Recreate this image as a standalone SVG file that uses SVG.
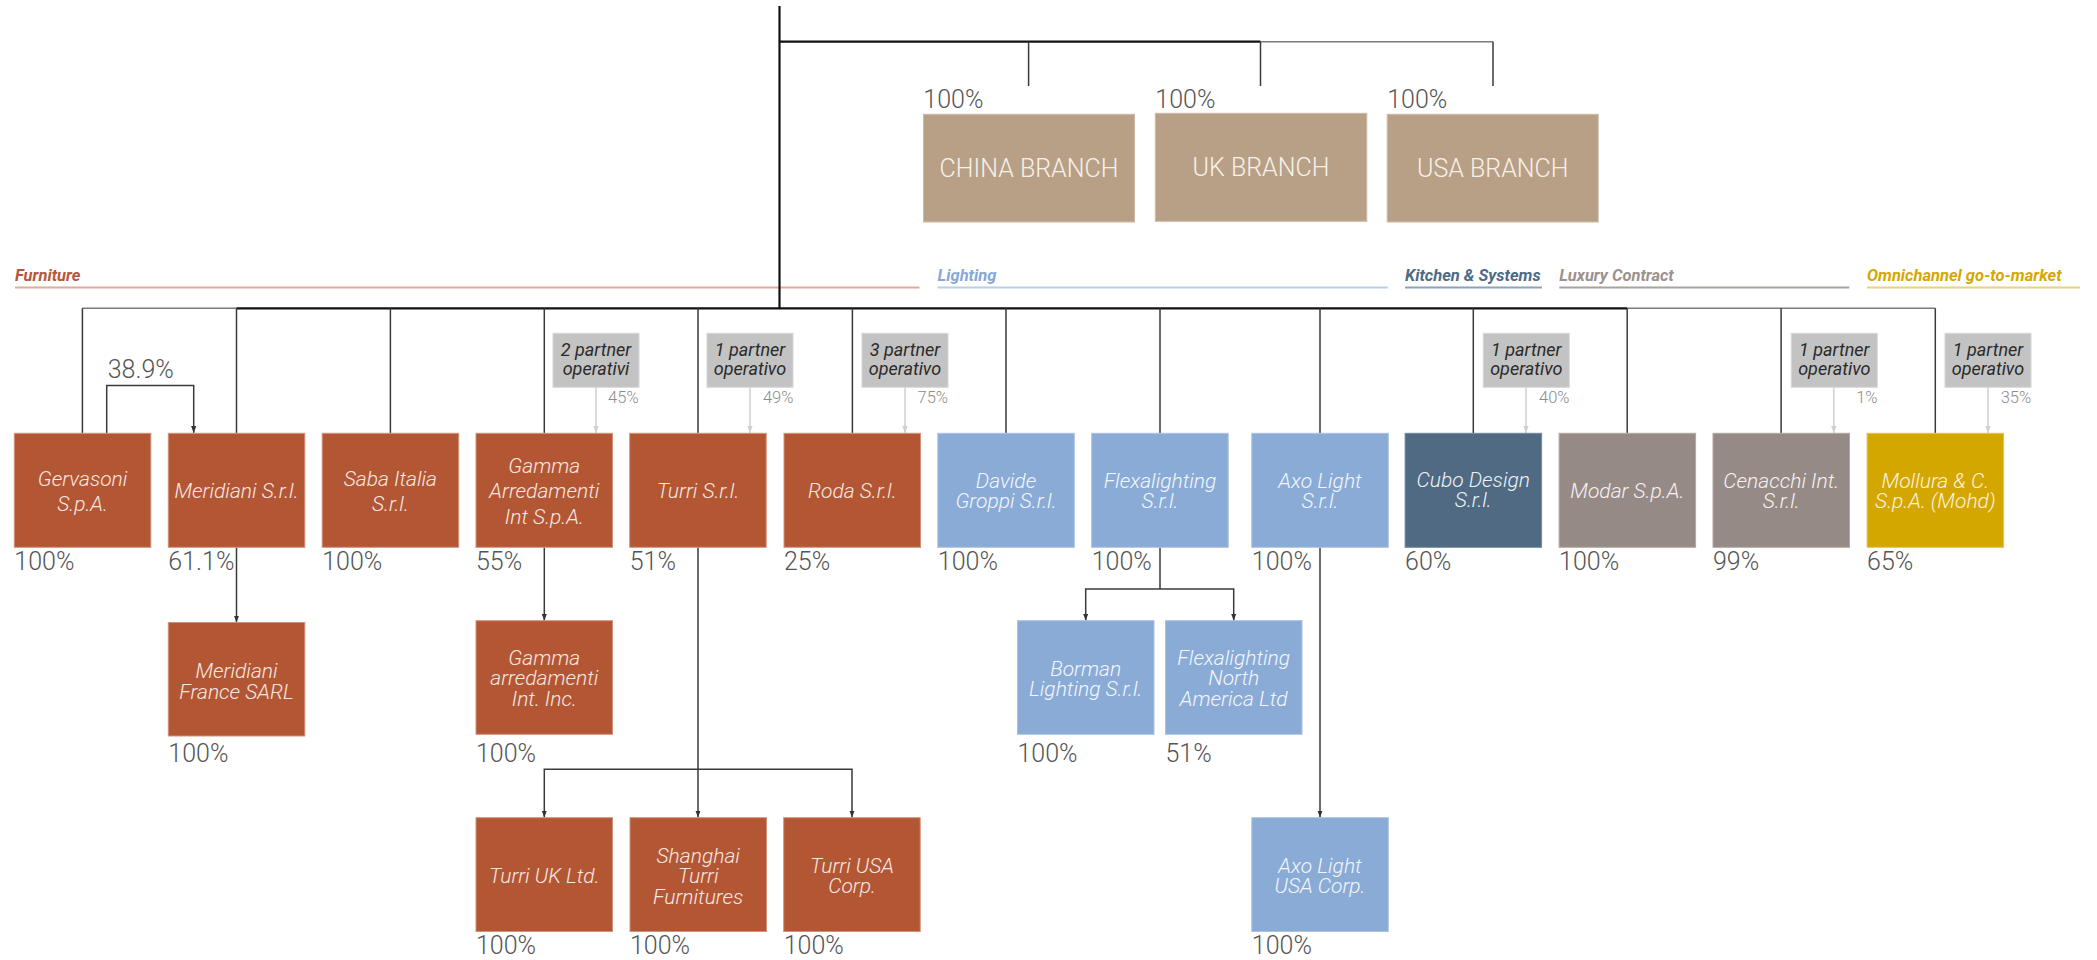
<svg xmlns="http://www.w3.org/2000/svg" width="2097" height="960" viewBox="0 0 2097 960">
<defs>
<style>
text{font-family:Roboto,"Liberation Sans",Arial,sans-serif}
.bx{font-style:italic;font-weight:300;font-size:21px;text-anchor:middle}
.fur rect{fill:#b35634;stroke:#d4917a;stroke-width:1}
.fur text{fill:#f7e8e1}
.lig rect{fill:#8aabd5;stroke:#a9c2e3;stroke-width:1}
.lig text{fill:#f3f7fc}
.kit rect{fill:#4f6a82;stroke:#7189a0;stroke-width:1}
.kit text{fill:#eef2f6}
.lux rect{fill:#968a86;stroke:#b2a8a4;stroke-width:1}
.lux text{fill:#f6f2f1}
.omn rect{fill:#d4a600;stroke:#e3c25a;stroke-width:1}
.omn text{fill:#fbf4dc}
.br rect{fill:#b8a086;stroke:#cdbaa6;stroke-width:1}
.br text.bt{fill:#f7f1ea;font-size:25px;font-weight:300;text-anchor:middle}
g text.pct,text.pct{font-size:25px;font-weight:300;fill:#555555;font-style:normal;text-anchor:start}
.pp rect{fill:#c3c3c3;stroke:#d6d6d6;stroke-width:1}
.pp text.t{font-style:italic;font-size:18px;fill:#2a2a2a;text-anchor:middle}
.pp text.p{font-size:16.5px;font-weight:300;fill:#8c8c8c;text-anchor:end}
.cat{font-style:italic;font-weight:700;font-size:16.5px}
.ln{fill:none;stroke:#3a3a3a;stroke-width:1.5}
.lnd{fill:none;stroke:#111111;stroke-width:2.2}
.lng{fill:none;stroke:#7a7a7a;stroke-width:1.6}
.pl{fill:none;stroke:#d2d2d2;stroke-width:1.6}
</style>
<marker id="arr" viewBox="0 0 8 8" refX="8" refY="4" markerWidth="7" markerHeight="7" markerUnits="userSpaceOnUse" orient="auto">
<path d="M0,1 L8,4 L0,7 z" fill="#333333"/>
</marker>
<marker id="arrg" viewBox="0 0 8 8" refX="8" refY="4" markerWidth="7" markerHeight="7" markerUnits="userSpaceOnUse" orient="auto">
<path d="M0,1 L8,4 L0,7 z" fill="#cfcfcf"/>
</marker>
</defs>
<rect width="2097" height="960" fill="#ffffff"/>

<!-- category labels -->
<g id="categories">
<text class="cat" x="15" y="280.7" fill="#b5573b">Furniture</text>
<line x1="15" y1="287.5" x2="919.5" y2="287.5" stroke="#e2aa99" stroke-width="2"/>
<text class="cat" x="937.6" y="280.7" fill="#86a8d8">Lighting</text>
<line x1="937.6" y1="287.5" x2="1387.8" y2="287.5" stroke="#bccfe8" stroke-width="2"/>
<text class="cat" x="1405" y="280.7" fill="#4d6b85">Kitchen &amp; Systems</text>
<line x1="1405" y1="287.5" x2="1542" y2="287.5" stroke="#8fa3b5" stroke-width="2"/>
<text class="cat" x="1559.3" y="280.7" fill="#9c918d">Luxury Contract</text>
<line x1="1559.3" y1="287.5" x2="1849.3" y2="287.5" stroke="#aaa29e" stroke-width="2"/>
<text class="cat" x="1867" y="280.7" fill="#d4a800">Omnichannel go-to-market</text>
<line x1="1867" y1="287.5" x2="2080" y2="287.5" stroke="#ecd27a" stroke-width="2"/>
</g>

<!-- connectors -->
<g id="connectors">
<path class="lnd" d="M779.5,6 V308.3"/>
<path class="lnd" d="M779.5,41.7 H1260.5"/>
<path class="lng" d="M1260.5,41.7 H1493"/>
<path class="ln" d="M1028.6,41.7 V86 M1260.5,41.7 V86 M1493,41.7 V86"/>
<path class="lng" d="M82.4,308.3 H236.5 M1627.2,308.3 H1935.3"/>
<path class="lnd" d="M236.5,308.3 H1627.2"/>
<path class="ln" d="M82.4,308.3 V433.3 M236.5,308.3 V433.3 M390.4,308.3 V433.3 M544.3,308.3 V433.3 M698,308.3 V433.3 M852.4,308.3 V433.3 M1006,308.3 V433.3 M1160,308.3 V433.3 M1320,308.3 V433.3 M1473.3,308.3 V433.3 M1627.2,308.3 V433.3 M1781.1,308.3 V433.3 M1935.3,308.3 V433.3"/>
<path class="ln" d="M106.7,433.3 V385.5 H193.7 V433" marker-end="url(#arr)"/>
<path class="pl" d="M596,387 V433" marker-end="url(#arrg)"/>
<path class="pl" d="M750,387 V433" marker-end="url(#arrg)"/>
<path class="pl" d="M905,387 V433" marker-end="url(#arrg)"/>
<path class="pl" d="M1526,387 V433" marker-end="url(#arrg)"/>
<path class="pl" d="M1833.8,387 V433" marker-end="url(#arrg)"/>
<path class="pl" d="M1988,387 V433" marker-end="url(#arrg)"/>
<path class="ln" d="M236.5,547.3 V622.5" marker-end="url(#arr)"/>
<path class="ln" d="M544.3,547.3 V620.7" marker-end="url(#arr)"/>
<path class="ln" d="M698,547.3 V817.5" marker-end="url(#arr)"/>
<path class="ln" d="M698,769.3 H544.3 V817.5" marker-end="url(#arr)"/>
<path class="ln" d="M698,769.3 H852 V817.5" marker-end="url(#arr)"/>
<path class="ln" d="M1160,547.3 V589"/>
<path class="ln" d="M1160,589 H1085.7 V620.7" marker-end="url(#arr)"/>
<path class="ln" d="M1160,589 H1233.7 V620.7" marker-end="url(#arr)"/>
<path class="ln" d="M1320,547.3 V817.5" marker-end="url(#arr)"/>
</g>

<text class="pct" x="107.7" y="377.7">38.9%</text>

<!-- branches -->
<g id="china" class="br">
<text class="pct" x="923.3" y="108.3">100%</text>
<rect x="923.5" y="114.3" width="211" height="107.7"/>
<text class="bt" x="1029" y="177.3">CHINA BRANCH</text>
</g>
<g id="uk" class="br">
<text class="pct" x="1155.3" y="108.3">100%</text>
<rect x="1155.3" y="113.3" width="211.5" height="108"/>
<text class="bt" x="1261" y="176.3">UK BRANCH</text>
</g>
<g id="usa" class="br">
<text class="pct" x="1387.2" y="108.3">100%</text>
<rect x="1387.2" y="114.3" width="211" height="107.7"/>
<text class="bt" x="1492.7" y="177.3">USA BRANCH</text>
</g>

<!-- partner boxes -->
<g id="partner-gamma" class="pp">
<rect x="553" y="333.3" width="86" height="54"/>
<text class="t" x="596" y="356">2 partner<tspan x="596" dy="19">operativi</tspan></text>
<text class="p" x="638.6" y="403">45%</text>
</g>
<g id="partner-turri" class="pp">
<rect x="707" y="333.3" width="86" height="54"/>
<text class="t" x="750" y="356">1 partner<tspan x="750" dy="19">operativo</tspan></text>
<text class="p" x="793.4" y="403">49%</text>
</g>
<g id="partner-roda" class="pp">
<rect x="862" y="333.3" width="86" height="54"/>
<text class="t" x="905" y="356">3 partner<tspan x="905" dy="19">operativo</tspan></text>
<text class="p" x="948" y="403">75%</text>
</g>
<g id="partner-cubo" class="pp">
<rect x="1483.3" y="333.3" width="86" height="54"/>
<text class="t" x="1526.3" y="356">1 partner<tspan x="1526.3" dy="19">operativo</tspan></text>
<text class="p" x="1569.5" y="403">40%</text>
</g>
<g id="partner-cenacchi" class="pp">
<rect x="1791.3" y="333.3" width="86" height="54"/>
<text class="t" x="1834.3" y="356">1 partner<tspan x="1834.3" dy="19">operativo</tspan></text>
<text class="p" x="1877.5" y="403">1%</text>
</g>
<g id="partner-mollura" class="pp">
<rect x="1945" y="333.3" width="86" height="54"/>
<text class="t" x="1988" y="356">1 partner<tspan x="1988" dy="19">operativo</tspan></text>
<text class="p" x="2031.2" y="403">35%</text>
</g>

<!-- top row -->
<g id="gervasoni" class="fur">
<rect x="14.3" y="433.3" width="136.5" height="114"/>
<text class="bx" x="82.6" y="485.5">Gervasoni<tspan x="82.6" dy="25.5">S.p.A.</tspan></text>
<text class="pct" x="14.3" y="569.8">100%</text>
</g>
<g id="meridiani" class="fur">
<rect x="168.3" y="433.3" width="136.5" height="114"/>
<text class="bx" x="236.5" y="497.8">Meridiani S.r.l.</text>
<text class="pct" x="168.3" y="569.8">61.1%</text>
</g>
<g id="saba" class="fur">
<rect x="322.2" y="433.3" width="136.5" height="114"/>
<text class="bx" x="390.4" y="485.5">Saba Italia<tspan x="390.4" dy="25.5">S.r.l.</tspan></text>
<text class="pct" x="322.2" y="569.8">100%</text>
</g>
<g id="gamma" class="fur">
<rect x="476" y="433.3" width="136.5" height="114"/>
<text class="bx" x="544.3" y="472.5">Gamma<tspan x="544.3" dy="25.5">Arredamenti</tspan><tspan x="544.3" dy="25.5">Int S.p.A.</tspan></text>
<text class="pct" x="476" y="569.8">55%</text>
</g>
<g id="turri" class="fur">
<rect x="629.7" y="433.3" width="136.5" height="114"/>
<text class="bx" x="698" y="497.8">Turri S.r.l.</text>
<text class="pct" x="629.7" y="569.8">51%</text>
</g>
<g id="roda" class="fur">
<rect x="784" y="433.3" width="136.5" height="114"/>
<text class="bx" x="852.3" y="497.8">Roda S.r.l.</text>
<text class="pct" x="784" y="569.8">25%</text>
</g>
<g id="davide" class="lig">
<rect x="937.8" y="433.3" width="136.5" height="114"/>
<text class="bx" x="1006" y="488">Davide<tspan x="1006" dy="20">Groppi S.r.l.</tspan></text>
<text class="pct" x="937.8" y="569.8">100%</text>
</g>
<g id="flexalighting" class="lig">
<rect x="1091.7" y="433.3" width="136.5" height="114"/>
<text class="bx" x="1160" y="488">Flexalighting<tspan x="1160" dy="20">S.r.l.</tspan></text>
<text class="pct" x="1091.7" y="569.8">100%</text>
</g>
<g id="axolight" class="lig">
<rect x="1251.8" y="433.3" width="136.5" height="114"/>
<text class="bx" x="1320" y="488">Axo Light<tspan x="1320" dy="20">S.r.l.</tspan></text>
<text class="pct" x="1251.8" y="569.8">100%</text>
</g>
<g id="cubo" class="kit">
<rect x="1405.1" y="433.3" width="136.5" height="114"/>
<text class="bx" x="1473.3" y="487">Cubo Design<tspan x="1473.3" dy="20">S.r.l.</tspan></text>
<text class="pct" x="1405.1" y="569.8">60%</text>
</g>
<g id="modar" class="lux">
<rect x="1559.1" y="433.3" width="136.5" height="114"/>
<text class="bx" x="1627.3" y="498">Modar S.p.A.</text>
<text class="pct" x="1559.1" y="569.8">100%</text>
</g>
<g id="cenacchi" class="lux">
<rect x="1713" y="433.3" width="136.5" height="114"/>
<text class="bx" x="1781.2" y="488">Cenacchi Int.<tspan x="1781.2" dy="20">S.r.l.</tspan></text>
<text class="pct" x="1713" y="569.8">99%</text>
</g>
<g id="mollura" class="omn">
<rect x="1867.1" y="433.3" width="136.5" height="114"/>
<text class="bx" x="1935.3" y="488">Mollura &amp; C.<tspan x="1935.3" dy="20">S.p.A. (Mohd)</tspan></text>
<text class="pct" x="1867.1" y="569.8">65%</text>
</g>

<!-- second level -->
<g id="meridiani-france" class="fur">
<rect x="168.3" y="622.5" width="136.5" height="113.5"/>
<text class="bx" x="236.5" y="678.3">Meridiani<tspan x="236.5" dy="20.2">France SARL</tspan></text>
<text class="pct" x="168.3" y="761.5">100%</text>
</g>
<g id="gamma-inc" class="fur">
<rect x="476" y="620.7" width="136.5" height="113.6"/>
<text class="bx" x="544.3" y="665">Gamma<tspan x="544.3" dy="20.4">arredamenti</tspan><tspan x="544.3" dy="20.4">Int. Inc.</tspan></text>
<text class="pct" x="476" y="761.5">100%</text>
</g>
<g id="borman" class="lig">
<rect x="1017.5" y="620.7" width="136.5" height="113.6"/>
<text class="bx" x="1085.7" y="676">Borman<tspan x="1085.7" dy="20">Lighting S.r.l.</tspan></text>
<text class="pct" x="1017.5" y="761.5">100%</text>
</g>
<g id="flexa-na" class="lig">
<rect x="1165.5" y="620.7" width="136.5" height="113.6"/>
<text class="bx" x="1233.7" y="665">Flexalighting<tspan x="1233.7" dy="20.4">North</tspan><tspan x="1233.7" dy="20.4">America Ltd</tspan></text>
<text class="pct" x="1165.5" y="761.5">51%</text>
</g>

<!-- third level -->
<g id="turri-uk" class="fur">
<rect x="476" y="817.7" width="136.5" height="113.8"/>
<text class="bx" x="544.3" y="883.3">Turri UK Ltd.</text>
<text class="pct" x="476" y="954">100%</text>
</g>
<g id="shanghai-turri" class="fur">
<rect x="630" y="817.7" width="136.5" height="113.8"/>
<text class="bx" x="698.2" y="862.5">Shanghai<tspan x="698.2" dy="20.5">Turri</tspan><tspan x="698.2" dy="20.5">Furnitures</tspan></text>
<text class="pct" x="630" y="954">100%</text>
</g>
<g id="turri-usa" class="fur">
<rect x="783.7" y="817.7" width="136.5" height="113.8"/>
<text class="bx" x="852" y="872.7">Turri USA<tspan x="852" dy="20.5">Corp.</tspan></text>
<text class="pct" x="783.7" y="954">100%</text>
</g>
<g id="axo-usa" class="lig">
<rect x="1251.8" y="817.7" width="136.5" height="113.8"/>
<text class="bx" x="1320" y="872.7">Axo Light<tspan x="1320" dy="20.3">USA Corp.</tspan></text>
<text class="pct" x="1251.8" y="954">100%</text>
</g>
</svg>
